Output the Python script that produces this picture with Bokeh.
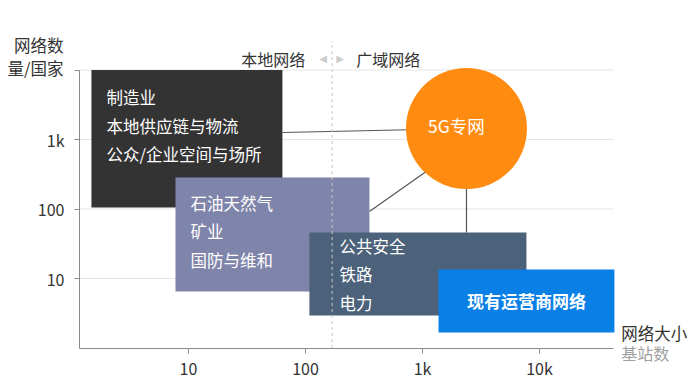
from bokeh.plotting import figure
from bokeh.models import ColumnDataSource, FixedTicker, Label, Range1d
from bokeh.embed import file_html
from bokeh.resources import INLINE
from bokeh.core.properties import value

FONT = "Noto Sans CJK SC"

# ---- data ----
x_ticks = [10, 100, 1000, 10000]
x_tick_labels = ["10", "100", "1k", "10k"]
y_ticks = [10, 100, 1000, 10000]
y_tick_labels = ["10", "100", "1k", ""]

box_left = [1.48, 7.74, 108, 1371]
box_right = [63.5, 352, 7740, 43700]
box_bottom = [105, 6.5, 2.94, 1.67]
box_top = [10000, 284, 45.9, 13.5]
box_colors = ["#333333", "#7f84aa", "#4b627a", "#0a7fe6"]
box_lines = [
    ["制造业", "本地供应链与物流", "公众/企业空间与场所"],
    ["石油天然气", "矿业", "国防与维和"],
    ["公共安全", "铁路", "电力"],
    [],
]
operator_label = "现有运营商网络"

hub_label = "5G专网"
hub_x = [2377]
hub_y = [1440]

link_x0 = [63.5, 352, 2377]
link_y0 = [1261, 92, 1440]
link_x1 = [2377, 1170, 2377]
link_y1 = [1440, 383, 45.9]

divide_x = 169
left_zone = "本地网络"
right_zone = "广域网络"
y_title = ["网络数", "量/国家"]
x_title = ["网络大小", "基站数"]

# ---- layout / style ----
W, H = 692, 384
x_view = (10 ** -0.607, 10 ** 5.308)   # whole canvas
y_view = (10 ** -0.525, 10 ** 5.0)
x_axis_start, x_axis_end = 10 ** 0.068, 10 ** 4.632
y_axis_start, y_axis_end = 1, 10000
text_pad_x = [15, 15, 30, 0]
text_pad_y = [27, 25, 13, 0]
line_gap = 28.5

p = figure(width=W, height=H, x_axis_type="log", y_axis_type="log",
           x_range=Range1d(*x_view), y_range=Range1d(*y_view),
           output_backend="svg", toolbar_location=None, min_border=0)
p.min_border_left = p.min_border_right = p.min_border_top = p.min_border_bottom = 0
p.outline_line_color = None
p.background_fill_color = "white"
p.border_fill_color = "white"

# axes, placed at fixed data locations
for ax in (p.xaxis[0], p.yaxis[0]):
    ax.axis_line_color = "#8a8a8a"
    ax.major_tick_line_color = "#8a8a8a"
    ax.minor_tick_line_color = None
    ax.major_tick_out = 5
    ax.major_tick_in = 0
    ax.major_label_text_font = FONT
    ax.major_label_text_color = "#333333"
    ax.major_label_text_font_size = "16px"
p.xaxis.ticker = FixedTicker(ticks=x_ticks)
p.xaxis.major_label_overrides = {t: l for t, l in zip(x_ticks, x_tick_labels)}
p.xaxis.major_label_standoff = 3
p.xaxis.bounds = (x_axis_start, x_axis_end)
p.xaxis.fixed_location = y_axis_start
p.yaxis.ticker = FixedTicker(ticks=y_ticks)
p.yaxis.major_label_overrides = {t: l for t, l in zip(y_ticks, y_tick_labels)}
p.yaxis.major_label_standoff = 10
p.yaxis.bounds = (y_axis_start, y_axis_end)
p.yaxis.fixed_location = x_axis_start
p.xgrid.visible = False
p.ygrid.visible = False

# horizontal grid lines at the y ticks, within the axis extent
p.segment(x0=[x_axis_start] * len(y_ticks), x1=[x_axis_end] * len(y_ticks),
          y0=y_ticks, y1=y_ticks, line_color="#e6e6e6", line_width=1)

# connectors
p.segment(x0=link_x0, y0=link_y0, x1=link_x1, y1=link_y1,
          line_color="#555555", line_width=1.2)

# boxes
p.quad(left=box_left, right=box_right, bottom=box_bottom, top=box_top,
       fill_color=box_colors, line_color=None)

rows = dict(x=[], y=[], text=[], xo=[], yo=[])
for L, T, lines, xo, yo in zip(box_left, box_top, box_lines, text_pad_x, text_pad_y):
    for i, t in enumerate(lines):
        rows["x"].append(L)
        rows["y"].append(T)
        rows["text"].append(t)
        rows["xo"].append(xo)
        rows["yo"].append(yo + i * line_gap)
p.text(x="x", y="y", text="text", x_offset="xo", y_offset="yo",
       source=ColumnDataSource(rows), text_color="white",
       text_font=value(FONT), text_font_size="16.5px",
       text_baseline="middle", text_align="left")

op_x = (box_left[3] * box_right[3]) ** 0.5
op_y = (box_bottom[3] * box_top[3]) ** 0.5
p.text(x=[op_x], y=[op_y], text=[operator_label], text_color="white",
       text_font=value(FONT), text_font_size="17px", text_font_style="bold",
       text_baseline="middle", text_align="center")

# hub circle
p.scatter(x=hub_x, y=hub_y, size=121, fill_color="#ff8c10", line_color=None)
p.text(x=hub_x, y=hub_y, text=[hub_label], x_offset=-10, y_offset=-3,
       text_color="white", text_font=value(FONT), text_font_size="17.5px",
       text_baseline="middle", text_align="center")

# divider (dashed), from above the plot down to the x axis
p.segment(x0=[divide_x], x1=[divide_x], y0=[y_axis_start], y1=[10 ** 4.42],
          line_color="#c8c8c8", line_dash="3 3", line_width=1)

hdr_y = 10 ** 4.16
def lab(x, y, text, align, size="16px", color="#333333", font=FONT, xo=0):
    p.add_layout(Label(x=x, y=y, x_offset=xo, text=text, text_align=align,
                       text_baseline="middle", text_font=font,
                       text_font_size=size, text_color=color))

lab(divide_x, hdr_y, left_zone, "right", xo=-27)
lab(divide_x, hdr_y, right_zone, "left", xo=24)
lab(divide_x, hdr_y, "◀", "center", size="10px", color="#cccccc", font="DejaVu Sans", xo=-9)
lab(divide_x, hdr_y, "▶", "center", size="10px", color="#cccccc", font="DejaVu Sans", xo=8)

# axis titles
lab(10 ** -0.068, 10 ** 4.353, y_title[0], "right", size="16.5px")
lab(10 ** -0.068, 10 ** 4.022, y_title[1], "right", size="16.5px")
lab(10 ** 4.70, 10 ** 0.223, x_title[0], "left", size="16.5px")
lab(10 ** 4.70, 10 ** -0.065, x_title[1], "left", size="16px", color="#a0a0a0")

open("out.html", "w").write(file_html(p, INLINE))
